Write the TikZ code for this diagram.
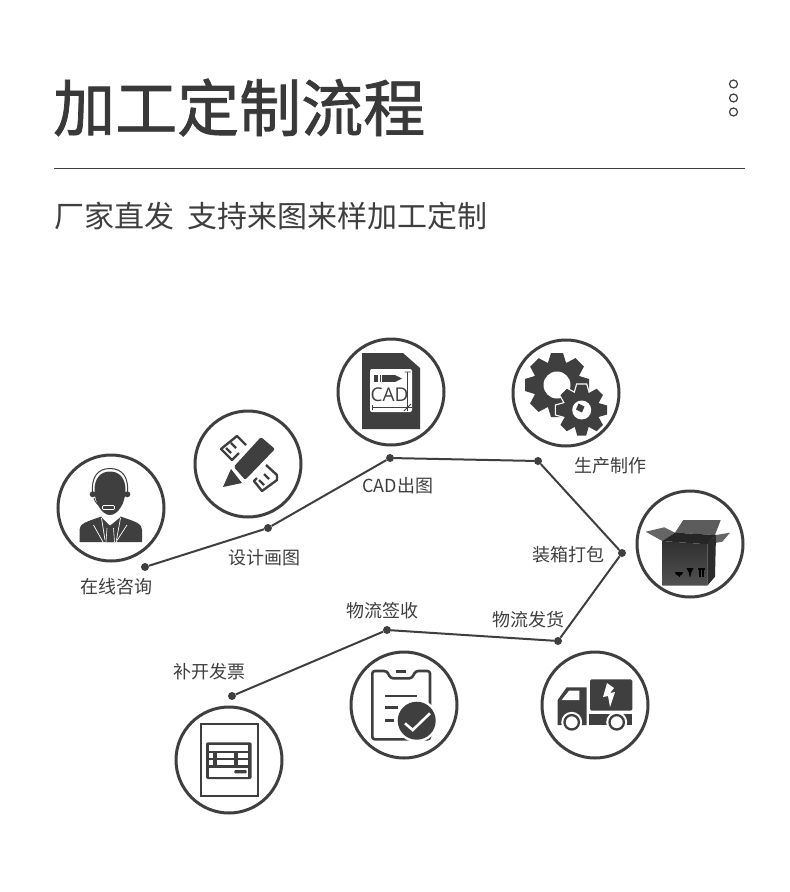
\documentclass[tikz,border=0pt]{standalone}
\usepackage{fontspec}
\setmainfont{Noto Sans CJK SC}
\setsansfont{Open Sans}
\newfontfamily\titlefont[RawFeature={embolden=1.2}]{Noto Sans CJK SC}
\definecolor{ink}{HTML}{3F3F3F}
\begin{document}
\begin{tikzpicture}[x=1pt,y=-1pt]
	\tikzset{vertex/.style = {shape=circle, fill=ink, inner sep=0pt, minimum size=8pt}}
	\tikzset{ring/.style = {shape=circle, draw=ink, line width=3pt, minimum size=106pt, inner sep=0pt}}
	\tikzset{menudot/.style = {shape=circle, draw=ink, line width=1.2pt, minimum size=8pt, inner sep=0pt}}
	\tikzset{steplabel/.style = {anchor=west, inner sep=0pt, text=ink, font=\fontsize{18}{18}\selectfont}}
	\tikzset{path/.style = {draw=ink, line width=2pt}}
	\tikzset{solid ink/.style = {fill=ink, draw=none}}
	\tikzset{blank/.style = {fill=white, draw=none}}
	\tikzset{outline/.style = {draw=ink, line width=2.6pt, line join=round}}

	\useasboundingbox (0,0) rectangle (790,892);
	\fill[white] (0,0) rectangle (790,892);

	\node[anchor=west, inner sep=0pt, text=ink!90!black, font=\titlefont\fontsize{62}{62}\selectfont] (title) at (53,107.5) {加工定制流程};
	\node[anchor=west, inner sep=0pt, text=ink, font=\fontsize{30}{30}\selectfont] (slogan_1) at (54,216) {厂家直发};
	\node[anchor=west, inner sep=0pt, text=ink, font=\fontsize{30}{30}\selectfont] (slogan_2) at (187.5,216) {支持来图来样加工定制};
	\node[menudot] (menu_1) at (733.5,84) {};
	\node[menudot] (menu_2) at (733.5,98) {};
	\node[menudot] (menu_3) at (733.5,112) {};
	\coordinate (rule_l) at (54,168.5);
	\coordinate (rule_r) at (745,168.5);
	\draw[ink, line width=1pt] (rule_l)--(rule_r);

	\node[ring] (C_1) at (111,508) {};
	\node[ring] (C_2) at (248,464) {};
	\node[ring] (C_3) at (391,392) {};
	\node[ring] (C_4) at (566,393) {};
	\node[ring] (C_5) at (690,544) {};
	\node[ring] (C_6) at (595,705) {};
	\node[ring] (C_7) at (404,705) {};
	\node[ring] (C_8) at (229,760) {};

	\node[vertex] (P_1) at (145,567) {};
	\node[vertex] (P_2) at (268,528) {};
	\node[vertex] (P_3) at (390,458) {};
	\node[vertex] (P_4) at (538,461) {};
	\node[vertex] (P_5) at (622,553) {};
	\node[vertex] (P_6) at (558,641) {};
	\node[vertex] (P_7) at (387,630) {};
	\node[vertex] (P_8) at (232,696) {};

	\draw[path] (P_1)--(P_2);
	\draw[path] (P_2)--(P_3);
	\draw[path] (P_3)--(P_4);
	\draw[path] (P_4)--(P_5);
	\draw[path] (P_5)--(P_6);
	\draw[path] (P_6)--(P_7);
	\draw[path] (P_7)--(P_8);

	\node[steplabel] (L_1) at (80,587) {在线咨询};
	\node[steplabel] (L_2) at (228.7,558) {设计画图};
	\node[steplabel] (L_3) at (362,486) {CAD出图};
	\node[steplabel] (L_4) at (574.5,466) {生产制作};
	\node[steplabel] (L_5) at (532,555) {装箱打包};
	\node[steplabel] (L_6) at (492,620) {物流发货};
	\node[steplabel] (L_7) at (346.5,611) {物流签收};
	\node[steplabel] (L_8) at (173,672) {补开发票};

	% person
	\fill[solid ink] (79.5,542) -- (79.5,530) .. controls (79.5,524) and (85,522) .. (101.5,516.5) -- (120.5,516.5) .. controls (137,522) and (142,524) .. (142,530) -- (142,542) -- cycle;
	\fill[blank] (101.5,517) -- (110,525.5) -- (120.5,517) -- (117,511) -- (104,511) -- cycle;
	\fill[solid ink] (107.5,525.5) -- (113,525.5) -- (112.5,529) -- (114.5,542) -- (106,542) -- (108,529) -- cycle;
	\draw[white, line width=0.7pt] (93.5,525) -- (103,542) (127,525) -- (116,542);
	\draw[white, line width=0.7pt] (101.5,518) -- (105,540) (120.5,518) -- (116.5,540);
	\draw[white, line width=0.6pt] (107,528) -- (106,542) (113.5,528) -- (114.5,542);
	\fill[solid ink] (110,471.5) .. controls (100,471.5) and (94.5,479) .. (94.5,490) .. controls (94.5,503) and (102,515) .. (110,515) .. controls (118,515) and (125.5,503) .. (125.5,490) .. controls (125.5,479) and (120,471.5) .. (110,471.5) -- cycle;
	\draw[ink, line width=1pt] (92.5,494) .. controls (91,478) and (97,468.5) .. (110,468.5) .. controls (123,468.5) and (129,478) .. (127.5,494);
	\fill[solid ink] (92.7,494.3) circle[radius=3];
	\fill[solid ink] (127.3,494.3) circle[radius=3];
	\draw[ink, line width=0.9pt] (94,498) .. controls (95,503) and (99,506) .. (103,507);
	\draw[white, line width=0.7pt, fill=ink, rounded corners=1pt] (102.5,505.5) rectangle (114.5,509.5);

	% pencil and ruler
	\draw[outline, line width=2.4pt] (246,445) -- (237,436) -- (221,449) -- (232,460) -- (239,453) (231,443) -- (236,448) (226,448) -- (231,453);
	\draw[outline, line width=2.4pt] (266,465) -- (277,475) -- (277,480) -- (262,491) -- (254,481) -- (257,478) (264,474) -- (269,479) (259,480) -- (264,485);
	\draw[white, line width=4pt] (233.5,467) -- (261,437) -- (275,449) -- (245,480) -- cycle;
	\fill[solid ink, rounded corners=2pt] (233.5,467) -- (261,437) -- (275,449) -- (245,480) -- cycle;
	\fill[blank] (231,469) -- (233.5,467) -- (245,480) -- (242,483) -- cycle;
	\fill[solid ink] (223,487) -- (231,469) -- (242,483) -- cycle;

	% cad file
	\fill[solid ink] (362,353) -- (403,353) -- (420,368) -- (420,429) -- (362,429) -- cycle;
	\fill[blank, rounded corners=2pt] (370,369) rectangle (412,412);
	\fill[solid ink] (373.5,375) rectangle (395,382);
	\fill[solid ink] (395,375) -- (402,378.5) -- (395,382) -- cycle;
	\fill[blank] (378,375) rectangle (379.5,382);
	\fill[blank] (381,375) rectangle (382,382);
	\node[inner sep=0pt, text=ink, font=\sffamily\fontsize{19}{19}\selectfont] (cad) at (389.5,395) {CAD};
	\coordinate (dim_t) at (407.5,372);
	\coordinate (dim_b) at (407.5,411);
	\coordinate (dim_l) at (372.5,407.5);
	\coordinate (dim_r) at (412,407.5);
	\draw[ink, line width=0.8pt] (dim_t)--(dim_b);
	\draw[ink, line width=0.8pt] (dim_l)--(dim_r);
	\draw[ink, line width=0.8pt] (404.5,372) -- (410.5,372) (372.5,405) -- (372.5,410) (404,411) -- (411,404);

	% gears
	\fill[solid ink] (557,385) circle[radius=24];
	\foreach \a in {0,45,...,315}
		\fill[solid ink, rotate around={\a:(557,385)}] (551,353) -- (563,353) -- (567,366) -- (547,366) -- cycle;
	\fill[blank] (557,385) circle[radius=13.5];
	\draw[white, line width=3pt] (581.7,410) circle[radius=18.5];
	\foreach \a in {0,45,...,315}
		\draw[white, line width=2.5pt, fill=white, rotate around={\a:(581.7,410)}] (577.2,384.5) -- (586.2,384.5) -- (589.2,395) -- (574.2,395) -- cycle;
	\fill[solid ink] (581.7,410) circle[radius=18];
	\foreach \a in {0,45,...,315}
		\fill[solid ink, rotate around={\a:(581.7,410)}] (577.2,384.5) -- (586.2,384.5) -- (589.2,395) -- (574.2,395) -- cycle;
	\fill[blank] (581.7,410) circle[radius=9.5];
	\fill[solid ink] (578.5,403.5) -- (584.5,406.5) -- (582,412.5) -- (576,409.5) -- cycle;

	% box
	\fill[fill=ink!80!white] (645.7,531.7) -- (664.3,527.3) -- (675,532.7) -- (662.3,541) -- cycle;
	\fill[fill=ink!85!white] (675,532.7) -- (683.3,520) -- (720.7,520) -- (715,535) -- cycle;
	\fill[fill=ink!80!white] (707.3,544.3) -- (716,535) -- (730,532.7) -- (722.3,541.7) -- cycle;
	\fill[fill=black!85!white] (662.3,541) -- (675,532.7) -- (716,535) -- (707.3,544.3) -- cycle;
	\shade[top color=ink!75!black, bottom color=ink!90!white] (662.3,541) -- (707.3,544.3) -- (707.3,585.7) -- (662.3,585.7) -- cycle;
	\fill[fill=ink!70!black] (707.3,544.3) -- (716,535) -- (715,576.7) -- (707.3,585.7) -- cycle;
	\fill[black] (675,572) arc[start angle=180, end angle=0, radius=4] -- cycle;
	\fill[black] (678.5,572) rectangle (679.5,576.5);
	\fill[black] (686.5,568) -- (693.5,568) -- (691,573) -- (690.5,576.5) -- (689.5,576.5) -- (689,573) -- cycle;
	\fill[black] (697.5,568) rectangle (705,570);
	\fill[black] (698.5,570) rectangle (700.5,576.5);
	\fill[black] (702,570) rectangle (704,576.5);

	% truck
	\fill[solid ink, rounded corners=1.5pt] (590,679.3) rectangle (632.3,710.7);
	\fill[blank] (607,683) -- (603,697) -- (608,696) -- (610,707) -- (615,692) -- (610,693) -- (614,688) -- cycle;
	\fill[solid ink] (557.7,725) -- (557.7,700) -- (566.7,687.3) -- (586.7,687.3) -- (586.7,725) -- cycle;
	\fill[blank] (561.7,700) -- (569,690.7) -- (579.3,690.7) -- (579.3,700) -- cycle;
	\fill[solid ink] (589.3,714.3) rectangle (632.3,725);
	\foreach \x in {571.7,616.7}
	{
		\fill[white] (\x,722.3) circle[radius=10.5];
		\draw[ink, line width=2.3pt] (\x,722.3) circle[radius=7.2];
	}

	% clipboard
	\draw[outline, rounded corners=2.5pt] (372.3,671) -- (386.7,671) -- (390.7,678.3) -- (411.7,678.3) -- (415.7,671) -- (430,671) -- (430,720) -- (430,739.3) -- (372.3,739.3) -- cycle;
	\draw[ink, line width=2.6pt] (396,671.3) -- (406,671.3);
	\draw[ink, line width=2.6pt] (385,696) -- (416.7,696);
	\draw[ink, line width=2.6pt] (385,707.7) -- (398.3,707.7);
	\draw[ink, line width=2.6pt] (385,720.7) -- (394,720.7);
	\fill[white] (416.7,720.7) circle[radius=21.5];
	\fill[solid ink] (416.7,720.7) circle[radius=19];
	\draw[white, line width=2.6pt] (405,723.3) -- (412.7,730) -- (430,713.3);

	% invoice
	\draw[ink, line width=1.8pt] (200.7,724.3) rectangle (258.3,796);
	\fill[solid ink, rounded corners=2pt] (206,742.3) rectangle (251.7,779);
	\fill[blank] (209.3,745) rectangle (248.3,750.7);
	\fill[blank] (209.3,753.3) rectangle (213.3,757.7);
	\fill[blank] (216.7,753.3) rectangle (234.3,757.7);
	\fill[blank] (237.7,753.3) rectangle (248.3,757.7);
	\fill[blank] (209.3,760.3) rectangle (213.3,765);
	\fill[blank] (216.7,760.3) rectangle (234.3,765);
	\fill[blank] (237.7,760.3) rectangle (248.3,765);
	\fill[blank] (209.3,768.3) rectangle (248.3,776.7);
	\fill[solid ink, rounded corners=1pt] (234.3,770) rectangle (246.7,773.3);
\end{tikzpicture}
\end{document}
